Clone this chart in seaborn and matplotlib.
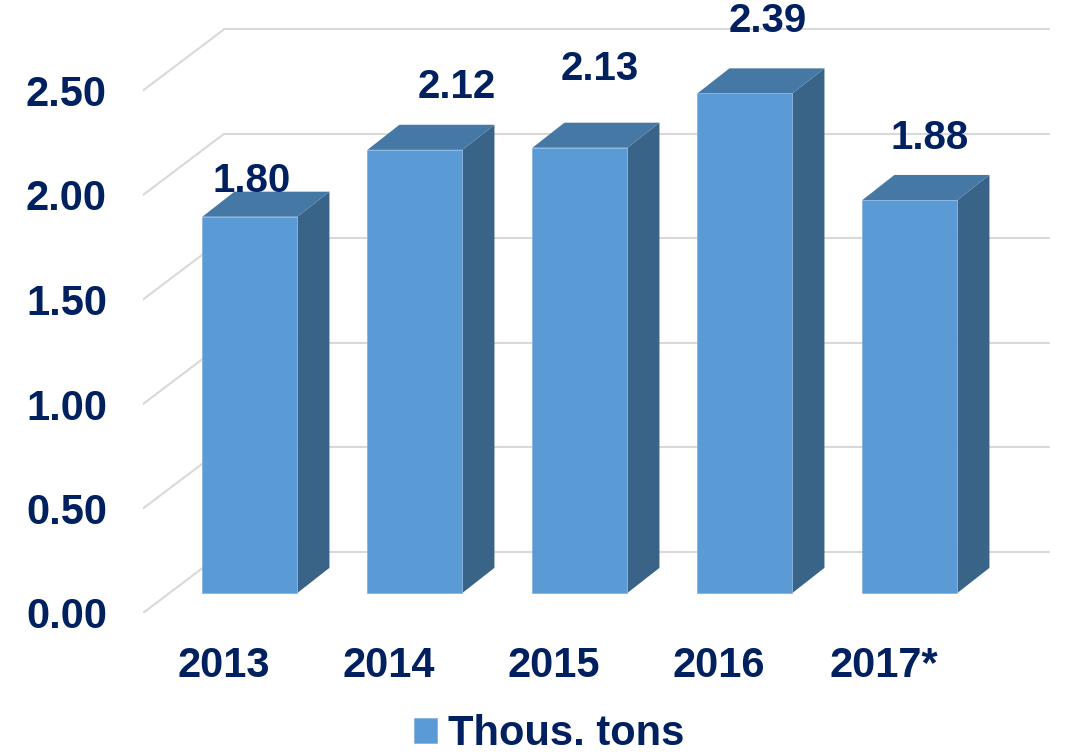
import numpy as np
import pandas as pd
import seaborn as sns
import matplotlib.pyplot as plt
from matplotlib.patches import Polygon

years = ['2013', '2014', '2015', '2016', '2017*']
tons = [1.80, 2.12, 2.13, 2.39, 1.88]
y_ticks = [0.0, 0.5, 1.0, 1.5, 2.0, 2.5]
series_name = 'Thous. tons'

front_col = '#5B9BD5'
side_col = '#3A6487'
top_col = '#4678A5'
text_col = '#002060'
grid_col = '#D9D9D9'

# fake 3d look, everything in data units relative to the bar front faces
bar_w = 0.576
bar_dx, bar_dy = 0.194, 0.120        # depth of one bar
floor_dx, floor_dy = -0.161, -0.096  # front edge of the floor
wall_left, wall_dy = -0.158, 0.196   # back wall
diag_x0 = -0.648
wall_right = 4.84
# manual nudges of the value labels (pixels, like excel lets you drag them)
label_nudge = [(2, 36), (42, 63), (20, 79), (23, 72), (20, 62)]

sns.set_style('white')
plt.rcParams['font.family'] = ['Liberation Sans', 'DejaVu Sans']
plt.rcParams['font.weight'] = 'bold'

fig = plt.figure(figsize=(10.69, 7.56), dpi=100)
ax = fig.add_axes([143 / 1069, 143 / 756, 907 / 1069, 613 / 756])

df = pd.DataFrame({'year': years, 'tons': tons})
sns.barplot(data=df, x='year', y='tons', color=front_col, width=bar_w,
            saturation=1, edgecolor='#86B4E2', linewidth=0.6,
            label=series_name, ax=ax, zorder=3)

# side and top faces
for p in list(ax.patches):
    x0 = p.get_x()
    x1 = x0 + p.get_width()
    h = p.get_height()
    ax.add_patch(Polygon([(x1, 0), (x1 + bar_dx, bar_dy), (x1 + bar_dx, h + bar_dy), (x1, h)],
                         closed=True, fc=side_col, ec='none', zorder=2.9))
    ax.add_patch(Polygon([(x0, h), (x0 + bar_dx, h + bar_dy), (x1 + bar_dx, h + bar_dy), (x1, h)],
                         closed=True, fc=top_col, ec='none', zorder=2.9))

# gridlines: left wall diagonals + back wall
for v in y_ticks:
    ax.plot([diag_x0, wall_left], [v + floor_dy, v + wall_dy], color=grid_col, lw=1.5, zorder=1)
    ax.plot([wall_left, wall_right], [v + wall_dy, v + wall_dy], color=grid_col, lw=1.5, zorder=1)

# value labels
for i, v in enumerate(tons):
    ax.annotate(f'{v:.2f}', (i, v), xytext=label_nudge[i], textcoords='offset pixels',
                ha='center', va='center', fontsize=29, color=text_col,
                fontweight='bold', annotation_clip=False, zorder=5)

ax.set_xlim(diag_x0, diag_x0 + 907 / 165)
ax.set_ylim(floor_dy, floor_dy + 613 / 209)
ax.set_xticks([i + floor_dx for i in range(len(years))], labels=years)
ax.set_yticks([v + floor_dy for v in y_ticks], labels=[f'{v:.2f}' for v in y_ticks])
ax.tick_params(axis='x', length=0, pad=24, labelsize=30, labelcolor=text_col)
ax.tick_params(axis='y', length=0, pad=26, labelsize=30, labelcolor=text_col)
ax.set_xlabel('')
ax.set_ylabel('')
for s in ax.spines.values():
    s.set_visible(False)

ax.legend(loc='center', bbox_to_anchor=(549 / 1069, 1 - 734 / 756),
          bbox_transform=fig.transFigure, frameon=False, fontsize=30,
          handlelength=0.55, handleheight=0.53, handletextpad=0.26,
          labelcolor=text_col)

fig.savefig('out.png', dpi=100)
